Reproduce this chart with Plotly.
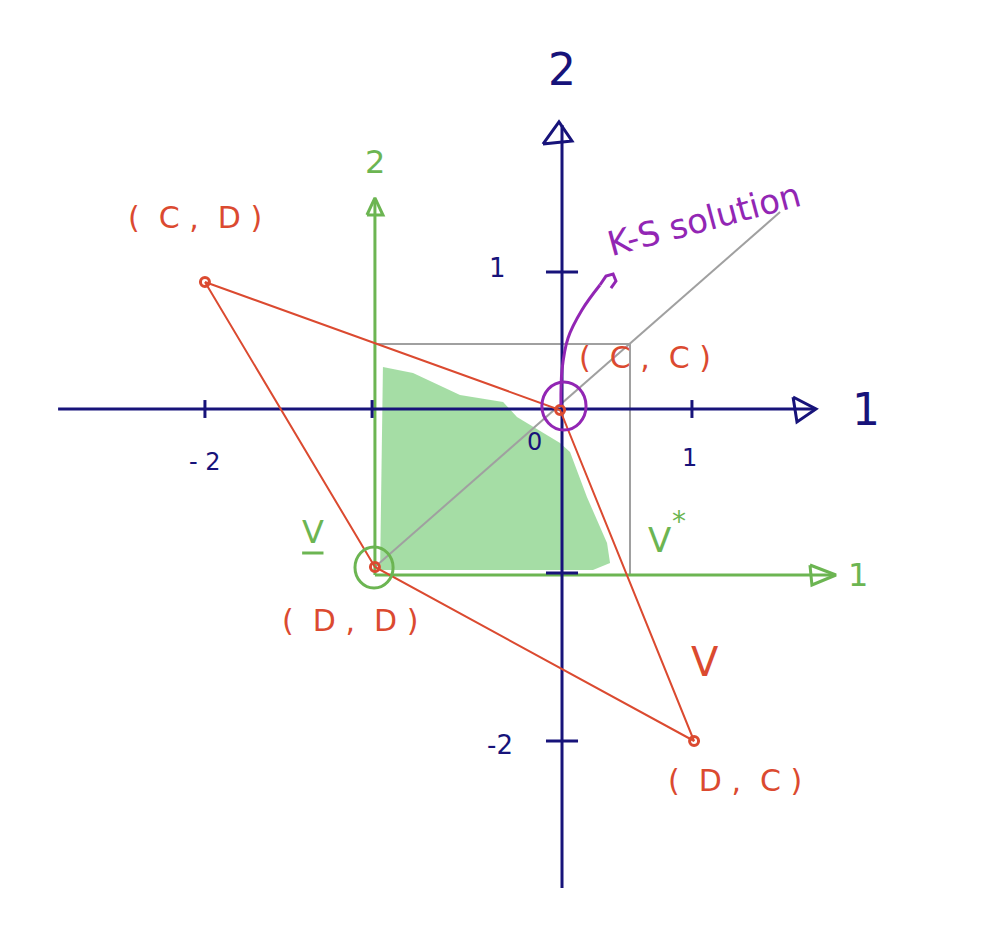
import plotly.graph_objects as go

NAVY = "#17137a"
RED = "#db4a30"
GREEN = "#6cb552"
PURPLE = "#9226b4"
GRAY = "#a0a0a0"
FONT = "DejaVu Sans"

# --- payoff points (game units as drawn) ---
outcome_labels = ["(  C ,  D )", "(  C ,  C )", "(  D ,  D )", "(  D ,  C )"]
outcome_x = [-2.006, -0.011, -1.051, 0.742]
outcome_y = [0.794, -0.006, -0.9875, -2.075]
outcome_label_x = [-2.062, 0.466, -1.191, 0.972]
outcome_label_y = [1.194, 0.319, -1.319, -2.319]

# red boundary of feasible set V (C,D)->(C,C)->(D,C)->(D,D)->(C,D)
v_order = [0, 1, 3, 2, 0]

# main axes
main_x_axis_x = [-2.831, 1.421]
main_y_axis_y = [-2.994, 1.775]
main_x_arrow_x = [1.298, 1.427, 1.320, 1.298]
main_x_arrow_y = [0.075, 0.0, -0.081, 0.075]
main_y_arrow_x = [-0.107, -0.017, 0.056, -0.107]
main_y_arrow_y = [1.656, 1.794, 1.675, 1.656]
x_tick_pos = [-2.006, -1.067, 0.730]
y_tick_pos = [0.856, -1.025, -2.075]
x_tick_text = ["- 2", "1"]
x_tick_text_x = [-2.006, 0.719]
x_tick_text_y = [-0.331, -0.306]
y_tick_text = ["1", "-2"]
y_tick_text_x = [-0.365, -0.348]
y_tick_text_y = [0.881, -2.10]

# green (shifted) axes with origin at disagreement point V
v_origin = (-1.051, -1.0375)
green_x_end = 1.534
green_y_end = 1.306
green_x_arrow_x = [1.393, 1.539, 1.404, 1.393]
green_x_arrow_y = [-0.975, -1.0375, -1.10, -0.975]
green_y_arrow_x = [-1.096, -1.051, -1.006, -1.096]
green_y_arrow_y = [1.2125, 1.319, 1.2125, 1.2125]

# gray box (ideal point V*) and diagonal
box_x = [-1.051, 0.382]
box_y = [-1.0375, 0.406]
diag_x = [-1.051, 1.225]
diag_y = [-0.9875, 1.231]

# shaded bargaining set
shade_x = [-1.006, -0.837, -0.573, -0.331, -0.253, -0.011, 0.045, 0.140, 0.253, 0.270, 0.174, -1.022]
shade_y = [0.2625, 0.225, 0.0875, 0.044, -0.05, -0.2125, -0.269, -0.55, -0.8375, -0.9625, -1.006, -1.006]

# K-S arrow curve and hook
ks_x = [-0.006, 0.0, 0.034, 0.112, 0.213]
ks_y = [0.025, 0.244, 0.444, 0.619, 0.775]
hook_x = [0.213, 0.247, 0.287, 0.303, 0.275]
hook_y = [0.775, 0.831, 0.844, 0.800, 0.756]

# underline of lower V label
v_under_x = [-1.46, -1.34]
v_under_y = [-0.90, -0.90]

fig = go.Figure()

def line(x, y, color, width, fill=None, fillcolor=None, shape="linear"):
    fig.add_trace(go.Scatter(x=x, y=y, mode="lines", fill=fill, fillcolor=fillcolor,
                             line=dict(color=color, width=width, shape=shape),
                             hoverinfo="skip", showlegend=False))

# shading
line(shade_x + shade_x[:1], shade_y + shade_y[:1], "rgba(0,0,0,0)", 0,
     fill="toself", fillcolor="rgba(110,200,110,0.62)")

# gray box + diagonal
line([box_x[0], box_x[1], box_x[1]], [box_y[1], box_y[1], box_y[0]], GRAY, 2)
line(diag_x, diag_y, GRAY, 2)

# green axes
line([v_origin[0], green_x_end], [v_origin[1], v_origin[1]], GREEN, 3)
line([v_origin[0], v_origin[0]], [v_origin[1], green_y_end], GREEN, 3)
line(green_x_arrow_x, green_x_arrow_y, GREEN, 3)
line(green_y_arrow_x, green_y_arrow_y, GREEN, 3)
line(v_under_x, v_under_y, GREEN, 3)

# main axes
line(main_x_axis_x, [0, 0], NAVY, 3)
line([0, 0], main_y_axis_y, NAVY, 3)
line(main_x_arrow_x, main_x_arrow_y, NAVY, 3)
line(main_y_arrow_x, main_y_arrow_y, NAVY, 3)
for t in x_tick_pos:
    line([t, t], [-0.056, 0.056], NAVY, 3)
for t in y_tick_pos:
    line([-0.09, 0.09], [t, t], NAVY, 3)

# red feasible set
line([outcome_x[i] for i in v_order], [outcome_y[i] for i in v_order], RED, 2)
fig.add_trace(go.Scatter(x=outcome_x, y=outcome_y, mode="markers",
                         marker=dict(color="rgba(0,0,0,0)", size=9, line=dict(color=RED, width=3)),
                         hoverinfo="skip", showlegend=False))

# K-S curve
line(ks_x, ks_y, PURPLE, 3, shape="spline")
line(hook_x, hook_y, PURPLE, 3)

# circles
fig.add_shape(type="circle", xref="x", yref="y",
              x0=-0.113, x1=0.135, y0=-0.131, y1=0.169,
              line=dict(color=PURPLE, width=3))
fig.add_shape(type="circle", xref="x", yref="y",
              x0=-1.163, x1=-0.949, y0=-1.119, y1=-0.8625,
              line=dict(color=GREEN, width=3))

def text(x, y, s, color, size, angle=0):
    fig.add_annotation(x=x, y=y, text=s, showarrow=False, textangle=angle,
                       font=dict(family=FONT, size=size, color=color))

for lx, ly, s in zip(outcome_label_x, outcome_label_y, outcome_labels):
    text(lx, ly, s, RED, 30)
text(0.803, -1.581, "V", RED, 40)
text(-1.399, -0.77, "V", GREEN, 32)
text(0.545, -0.82, "V", GREEN, 34)
text(0.66, -0.70, "*", GREEN, 28)
text(1.663, -1.0375, "1", GREEN, 32)
text(v_origin[0], 1.544, "2", GREEN, 32)
text(1.708, -0.006, "1", NAVY, 44)
text(0.0, 2.119, "2", NAVY, 44)
for s, x, y in zip(x_tick_text, x_tick_text_x, x_tick_text_y):
    text(x, y, s, NAVY, 24)
for s, x, y in zip(y_tick_text, y_tick_text_x, y_tick_text_y):
    text(x, y, s, NAVY, 26)
text(-0.152, -0.206, "0", NAVY, 24)
text(0.80, 1.19, "K-S solution", PURPLE, 34, angle=-15)

fig.update_layout(
    width=990, height=933,
    margin=dict(l=0, r=0, t=0, b=0),
    paper_bgcolor="white", plot_bgcolor="white",
    xaxis=dict(range=[-3.1124, 2.4494], visible=False, fixedrange=True),
    yaxis=dict(range=[-3.325, 2.50625], visible=False, fixedrange=True),
)

fig.write_html("out.html")
